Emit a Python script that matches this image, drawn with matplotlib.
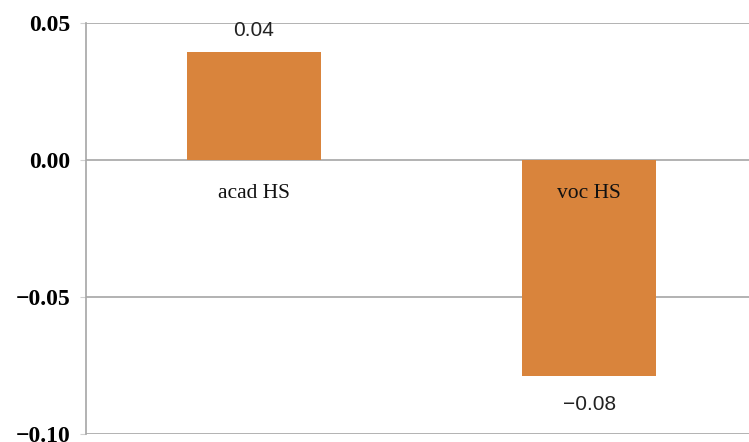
import matplotlib.pyplot as plt

# Bar values for the two school tracks
categories = ['acad HS', 'voc HS']
values = [0.0394, -0.0788]
value_labels = ['0.04', '\u22120.08']
yticks = [0.05, 0.00, -0.05, -0.10]
ytick_labels = ['0.05', '0.00', '\u22120.05', '\u22120.10']

bar_color = '#D9843C'
grid_color = '#A6A6A6'

fig = plt.figure(figsize=(7.49, 4.42), dpi=100)
# axes run off the right edge of the figure
ax = fig.add_axes([86 / 749, 8 / 442, 671 / 749, 411 / 442])

x = range(len(categories))
bars = ax.bar(x, values, width=0.4, color=bar_color, zorder=3)

ax.set_xlim(-0.5, 1.5)
ax.set_ylim(-0.10, 0.05)
ax.set_yticks(yticks)
ax.set_yticklabels(ytick_labels, fontfamily='Liberation Serif',
                   fontweight='bold', fontsize=17)
ax.set_xticks([])
ax.yaxis.grid(True, color=grid_color, linewidth=1.2, zorder=0)
ax.tick_params(axis='y', length=4, color='#D0D0D0', pad=7)

for side in ['top', 'right', 'bottom']:
    ax.spines[side].set_visible(False)
ax.spines['left'].set_color(grid_color)
ax.spines['left'].set_linewidth(1.2)

# value labels above / below each bar
for xi, v, lab in zip(x, values, value_labels):
    off = 22 if v > 0 else -29
    ax.annotate(lab, (xi, v), xytext=(0, off), textcoords='offset pixels',
                ha='center', va='center', fontsize=15,
                fontfamily='Liberation Sans', color='#222222')

# category names just under the zero line
for xi, name in zip(x, categories):
    ax.annotate(name, (xi, 0), xytext=(0, -33), textcoords='offset pixels',
                ha='center', va='center', fontsize=15.5,
                fontfamily='Liberation Serif', color='#111111', zorder=4)

fig.savefig('out.png', dpi=100)
